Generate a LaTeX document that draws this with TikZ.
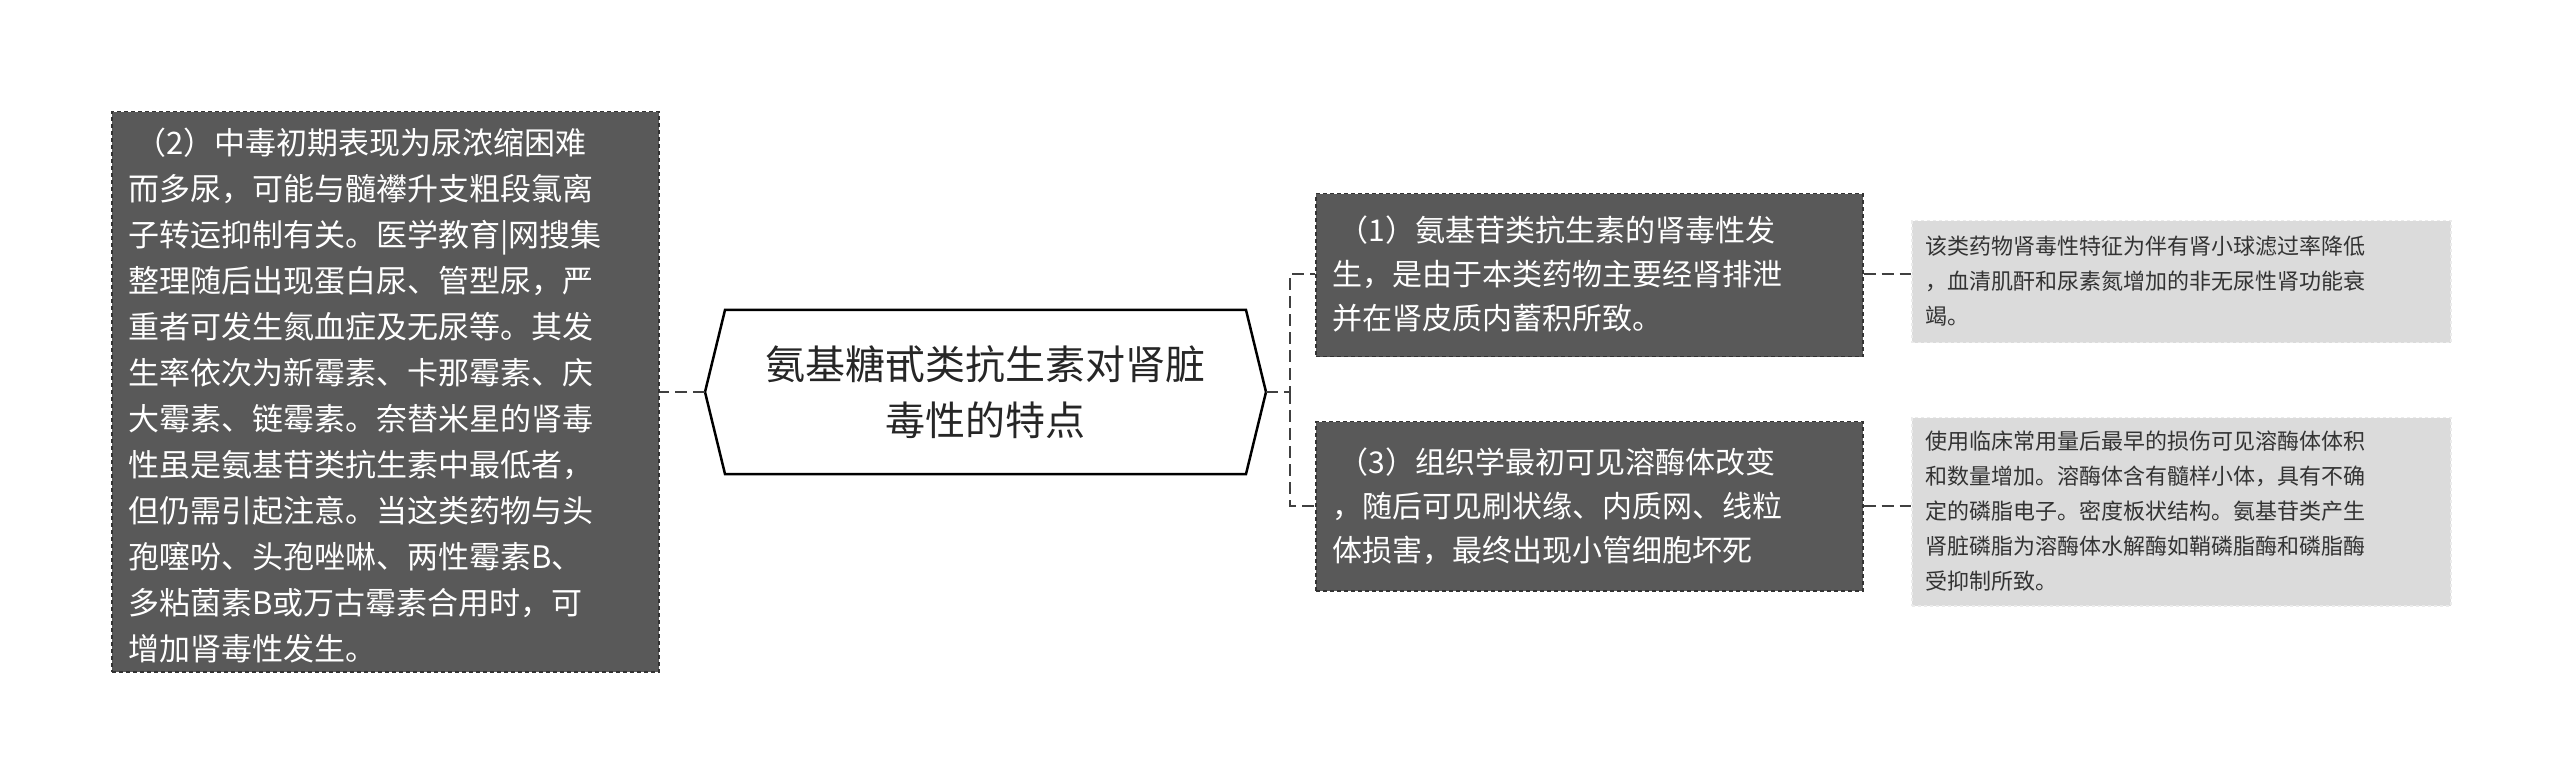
\documentclass[tikz,border=0pt]{standalone}
\usepackage{fontspec}
\setmainfont{Noto Sans CJK SC}
\usetikzlibrary{shapes.geometric}
\tikzset{
 dark/.style={fill=black!65,draw=black!80,dashed,dash pattern=on 4pt off 3pt,line width=1.5pt,text=white,align=left,inner sep=0pt,anchor=north west},
 light/.style={fill=black!14,draw=black!8,dashed,line width=1.5pt,text=black!80,align=left,inner sep=0pt,anchor=north west},
 conn/.style={draw=black!75,line width=2pt,dash pattern=on 12pt off 6pt},
}
\begin{document}
\begin{tikzpicture}[x=1pt,y=-1pt]
\useasboundingbox (0,0) rectangle (2560,783);
% left box
\node[dark,minimum width=547pt,minimum height=560pt] (L) at (111,111) {};
\node[text=white,align=left,anchor=north west,inner sep=0pt,font=\fontsize{31}{46}\selectfont] at (128,128) {\ （2）中毒初期表现为尿浓缩困难\\而多尿，可能与髓襻升支粗段氯离\\子转运抑制有关。医学教育|网搜集\\整理随后出现蛋白尿、管型尿，严\\重者可发生氮血症及无尿等。其发\\生率依次为新霉素、卡那霉素、庆\\大霉素、链霉素。奈替米星的肾毒\\性虽是氨基苷类抗生素中最低者，\\但仍需引起注意。当这类药物与头\\孢噻吩、头孢唑啉、两性霉素B、\\多粘菌素B或万古霉素合用时，可\\增加肾毒性发生。};
% center hexagon
\draw[line width=2.5pt,fill=white] (705,392) -- (725,310) -- (1246,310) -- (1266,392) -- (1246,474) -- (725,474) -- cycle;
\node[align=center,font=\fontsize{40}{56}\selectfont,text=black!85,inner sep=0pt] (C) at (985,392) {氨基糖甙类抗生素对肾脏\\毒性的特点};
\coordinate (Cl) at (705,392);
\coordinate (Cr) at (1266,392);
% right dark boxes
\node[dark,minimum width=547pt,minimum height=163pt] (B1) at (1315,193) {};
\node[text=white,align=left,anchor=west,inner sep=0pt,font=\fontsize{30}{44}\selectfont] at (1332,274) {\ （1）氨基苷类抗生素的肾毒性发\\生，是由于本类药物主要经肾排泄\\并在肾皮质内蓄积所致。};
\node[dark,minimum width=547pt,minimum height=169pt] (B3) at (1315,421) {};
\node[text=white,align=left,anchor=west,inner sep=0pt,font=\fontsize{30}{44}\selectfont] at (1332,506) {\ （3）组织学最初可见溶酶体改变\\，随后可见刷状缘、内质网、线粒\\体损害，最终出现小管细胞坏死};
% light boxes
\node[light,minimum width=539pt,minimum height=122pt] (S1) at (1911,220) {};
\node[align=left,anchor=west,inner sep=0pt,text=black!80,font=\fontsize{22}{35}\selectfont] at (1925,281) {该类药物肾毒性特征为伴有肾小球滤过率降低\\，血清肌酐和尿素氮增加的非无尿性肾功能衰\\竭。};
\node[light,minimum width=539pt,minimum height=188pt] (S2) at (1911,417) {};
\node[align=left,anchor=west,inner sep=0pt,text=black!80,font=\fontsize{22}{35}\selectfont] at (1925,511) {使用临床常用量后最早的损伤可见溶酶体体积\\和数量增加。溶酶体含有髓样小体，具有不确\\定的磷脂电子。密度板状结构。氨基苷类产生\\肾脏磷脂为溶酶体水解酶如鞘磷脂酶和磷脂酶\\受抑制所致。};
% connectors
\draw[conn] (Cl) -- (L.east |- Cl);
\coordinate (J) at (1290,392);
\draw[conn] (Cr) -- (J) -- (J |- 0,274) -- (B1.west |- 0,274);
\draw[conn] (J) -- (J |- 0,506) -- (B3.west |- 0,506);
\draw[conn] (B1.east |- 0,274) -- (S1.west |- 0,274);
\draw[conn] (B3.east |- 0,506) -- (S2.west |- 0,506);
\end{tikzpicture}
\end{document}
